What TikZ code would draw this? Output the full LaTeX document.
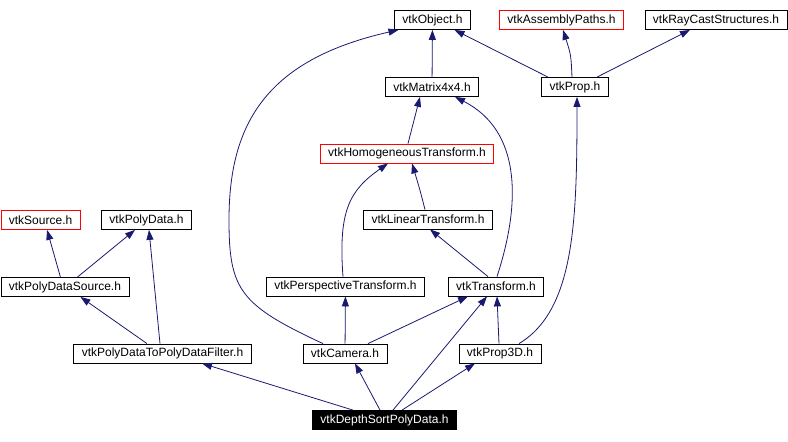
\documentclass[tikz,border=0pt]{standalone}
\usepackage{fontspec}
\setmainfont{Liberation Sans}
\usetikzlibrary{arrows.meta}
\definecolor{depblue}{HTML}{191970}

\begin{document}
\begin{tikzpicture}[x=1pt,y=-1pt,>={Triangle[length=10pt,width=7pt]},
  hdr/.style={draw,fill=white,line width=0.8pt,inner xsep=8pt,inner ysep=0pt,
    minimum height=19pt,font=\fontsize{12}{14}\selectfont},
  extern/.style={hdr,draw=red},
  current/.style={hdr,draw=black,fill=black,text=white},
  dep/.style={->,draw=depblue,fill=none,line width=0.8pt}]
  \useasboundingbox (0,0) rectangle (788,442);
  % headers, top row first
  \node[hdr] (obj) at (432.5,20) {vtkObject.h};
  \node[extern] (asm) at (561.5,20) {vtkAssemblyPaths.h};
  \node[hdr] (ray) at (716,20) {vtkRayCastStructures.h};
  \node[hdr] (mat) at (432,87) {vtkMatrix4x4.h};
  \node[hdr] (prop) at (575,87) {vtkProp.h};
  \node[extern] (hom) at (407,153.5) {vtkHomogeneousTransform.h};
  \node[hdr] (lin) at (428,219.5) {vtkLinearTransform.h};
  \node[extern,anchor=west] (src) at (0.5,220) {vtkSource.h};
  \node[hdr] (pd) at (146.5,220) {vtkPolyData.h};
  \node[hdr,anchor=west] (pds) at (0.5,287) {vtkPolyDataSource.h};
  \node[hdr] (per) at (345.5,286.5) {vtkPerspectiveTransform.h};
  \node[hdr] (trn) at (496,286.5) {vtkTransform.h};
  \node[hdr] (flt) at (162.5,353.5) {vtkPolyDataToPolyDataFilter.h};
  \node[hdr] (cam) at (345,353.5) {vtkCamera.h};
  \node[hdr] (p3d) at (500,353.5) {vtkProp3D.h};
  \node[current] (dsp) at (384.5,420) {vtkDepthSortPolyData.h};
  % include edges
  \draw[dep] ([xshift=-22]cam.north) .. controls (240,305) and (229,290) .. (229,220)
    .. controls (229,125) and (265,60) .. ([xshift=-34]obj.south);
  \draw[dep] (mat) -- (obj);
  \draw[dep] ([xshift=-27]prop.north) -- ([xshift=22]obj.south);
  \draw[dep] ([xshift=-3]prop.north) .. controls (571,55) .. ([xshift=1.5]asm.south);
  \draw[dep] ([xshift=22]prop.north) -- ([xshift=-26]ray.south);
  \draw[dep] ([xshift=1]hom.north) -- ([xshift=-12]mat.south);
  \draw[dep] ([xshift=1]trn.north) .. controls (522,200) and (520,130) .. ([xshift=23]mat.south);
  \draw[dep] ([xshift=-3]lin.north) .. controls (420,190) .. ([xshift=5]hom.south);
  \draw[dep] ([xshift=-2.5]per.north) .. controls (338,210) and (350,190) .. ([xshift=-19]hom.south);
  \draw[dep] ([xshift=-8]trn.north) -- ([xshift=2]lin.south);
  \draw[dep] ([xshift=19]p3d.north) .. controls (575,310) and (577,220) .. ([xshift=2]prop.south);
  \draw[dep] ([xshift=-4.5]pds.north) -- ([xshift=6.5]src.south);
  \draw[dep] ([xshift=12.5]pds.north) -- ([xshift=-11.5]pd.south);
  \draw[dep] ([xshift=-2.5]flt.north) -- ([xshift=2.5]pd.south);
  \draw[dep] ([xshift=-15.5]flt.north) -- ([xshift=15.5]pds.south);
  \draw[dep] (cam) -- (per);
  \draw[dep] ([xshift=23]cam.north) -- ([xshift=-28]trn.south);
  \draw[dep] ([xshift=-1]p3d.north) -- ([xshift=1]trn.south);
  \draw[dep] ([xshift=8.5]dsp.north) -- ([xshift=-9]trn.south);
  \draw[dep] ([xshift=-31.5]dsp.north) -- ([xshift=39.5]flt.south);
  \draw[dep] ([xshift=-4.5]dsp.north) -- ([xshift=10]cam.south);
  \draw[dep] ([xshift=17.5]dsp.north) -- ([xshift=-25]p3d.south);
\end{tikzpicture}
\end{document}
